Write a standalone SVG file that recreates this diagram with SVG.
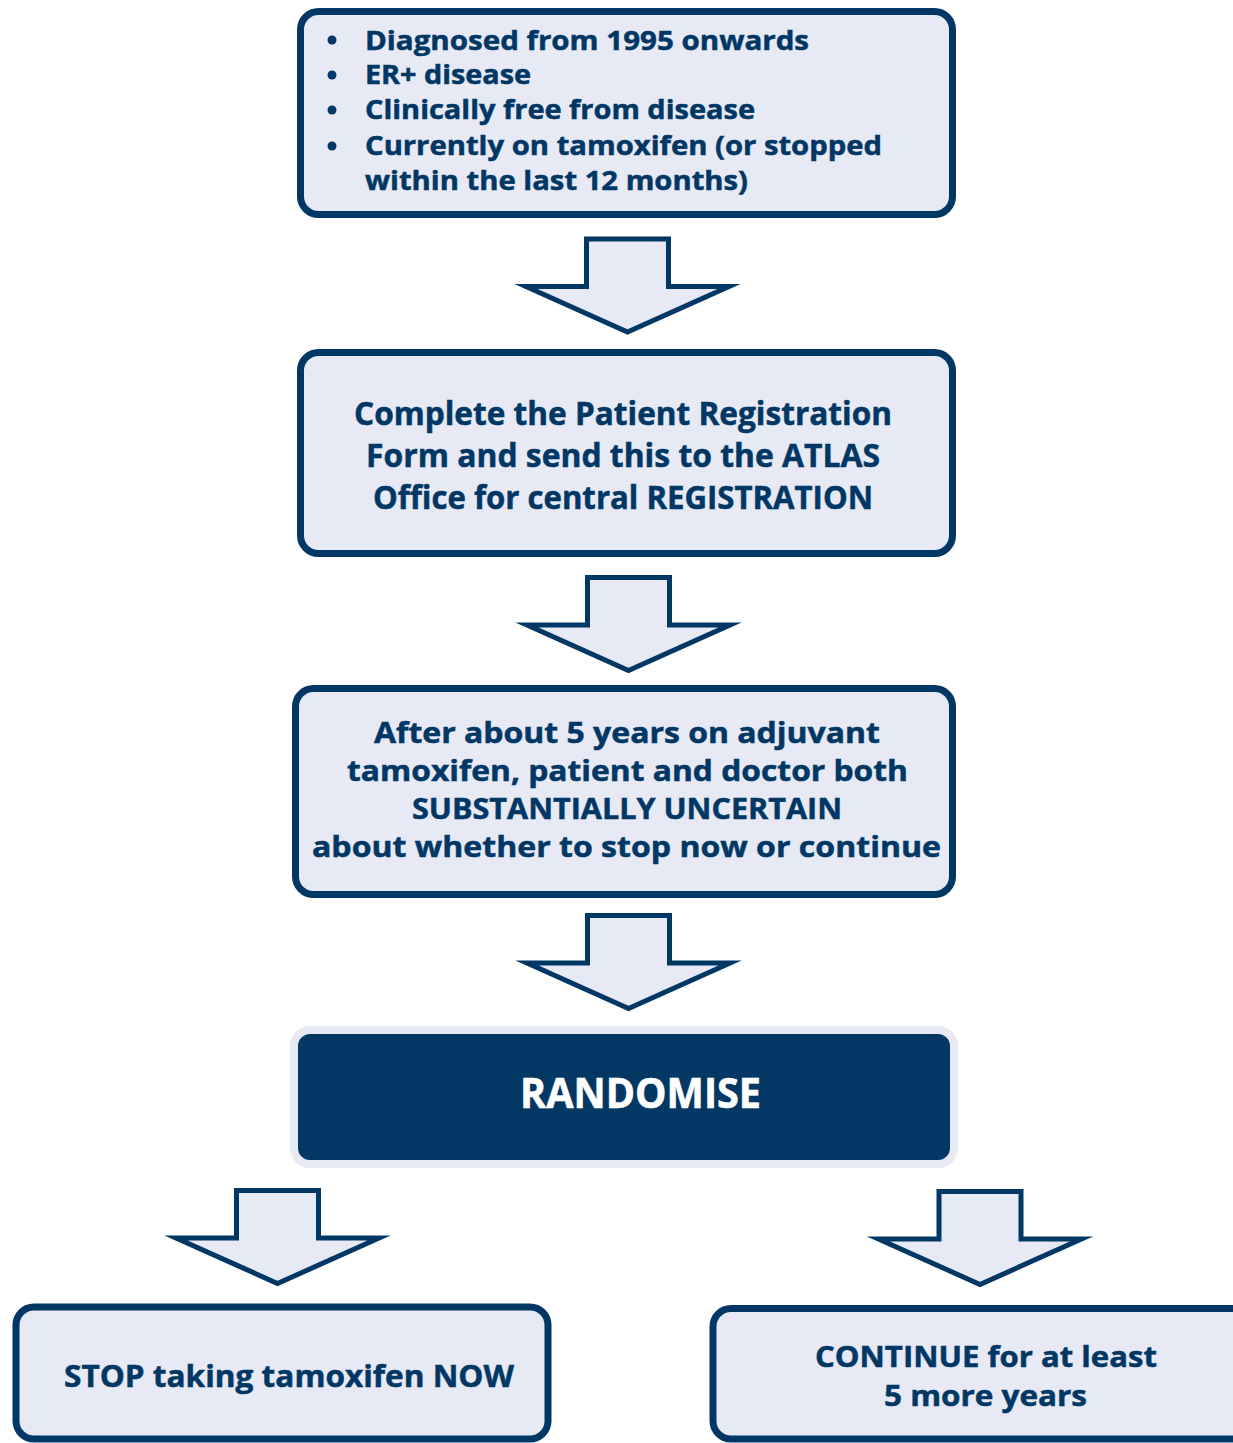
<svg xmlns="http://www.w3.org/2000/svg" width="1233" height="1443" viewBox="0 0 1233 1443">
<style>
.box{fill:#e7e9f5;stroke:#003764;stroke-width:7}
.arrow{fill:#e7e9f5;stroke:#003764;stroke-width:5;stroke-linejoin:miter;stroke-miterlimit:10}
.t{font-family:"Open Sans","Noto Sans","Liberation Sans",sans-serif;font-weight:700;fill:#003764;stroke:#003764;stroke-width:0.5}
.w{font-family:"Open Sans","Noto Sans","Liberation Sans",sans-serif;font-weight:700;fill:#ffffff;stroke:#ffffff;stroke-width:0.6}
</style>
<defs>
<polygon id="arr" points="-41,0 41,0 41,47.5 101.5,47.5 0,93 -101.5,47.5 -41,47.5"/>
</defs>
<rect width="1233" height="1443" fill="#ffffff"/>
<g id="connectors">
<use href="#arr" class="arrow" transform="translate(627.5,239)"/>
<use href="#arr" class="arrow" transform="translate(628.5,577.5)"/>
<use href="#arr" class="arrow" transform="translate(628.5,915.5)"/>
<use href="#arr" class="arrow" transform="translate(277.5,1190.5)"/>
<use href="#arr" class="arrow" transform="translate(980,1191.5)"/>
</g>
<g id="criteria">
<rect class="box" x="300.5" y="11.5" width="652" height="203" rx="18"/>
<circle cx="332" cy="40" r="4.5" fill="#003764"/>
<circle cx="332" cy="75" r="4.5" fill="#003764"/>
<circle cx="332" cy="110" r="4.5" fill="#003764"/>
<circle cx="332" cy="146" r="4.5" fill="#003764"/>
<text class="t" font-size="27" x="365" y="50" textLength="444" lengthAdjust="spacingAndGlyphs">Diagnosed from 1995 onwards</text>
<text class="t" font-size="27" x="365" y="84" textLength="166" lengthAdjust="spacingAndGlyphs">ER+ disease</text>
<text class="t" font-size="27" x="365" y="119" textLength="390" lengthAdjust="spacingAndGlyphs">Clinically free from disease</text>
<text class="t" font-size="27" x="365" y="155" textLength="517" lengthAdjust="spacingAndGlyphs">Currently on tamoxifen (or stopped</text>
<text class="t" font-size="27" x="365" y="190" textLength="383" lengthAdjust="spacingAndGlyphs">within the last 12 months)</text>
</g>
<g id="registration">
<rect class="box" x="300.5" y="352.5" width="652" height="201" rx="18"/>
<text class="t" font-size="32" x="354" y="425" textLength="538" lengthAdjust="spacingAndGlyphs">Complete the Patient Registration</text>
<text class="t" font-size="32" x="366" y="467" textLength="514" lengthAdjust="spacingAndGlyphs">Form and send this to the ATLAS</text>
<text class="t" font-size="32" x="373" y="509" textLength="500" lengthAdjust="spacingAndGlyphs">Office for central REGISTRATION</text>
</g>
<g id="uncertain">
<rect class="box" x="295.5" y="688.5" width="657" height="206" rx="18"/>
<text class="t" font-size="29" x="374" y="743" textLength="506" lengthAdjust="spacingAndGlyphs">After about 5 years on adjuvant</text>
<text class="t" font-size="29" x="347" y="781" textLength="561" lengthAdjust="spacingAndGlyphs">tamoxifen, patient and doctor both</text>
<text class="t" font-size="29" x="412" y="819" textLength="430" lengthAdjust="spacingAndGlyphs">SUBSTANTIALLY UNCERTAIN</text>
<text class="t" font-size="29" x="312" y="857" textLength="629" lengthAdjust="spacingAndGlyphs">about whether to stop now or continue</text>
</g>
<g id="randomise">
<rect x="294" y="1030" width="660" height="134" rx="16" fill="#033764" stroke="#e7e9f5" stroke-width="8"/>
<text class="w" font-size="41" x="520" y="1108" textLength="241" lengthAdjust="spacingAndGlyphs">RANDOMISE</text>
</g>
<g id="stop">
<rect class="box" x="16" y="1307" width="532" height="132" rx="18"/>
<text class="t" font-size="31" x="64" y="1387" textLength="450" lengthAdjust="spacingAndGlyphs">STOP taking tamoxifen NOW</text>
</g>
<g id="continue">
<rect class="box" x="713" y="1308.5" width="540" height="130.5" rx="18"/>
<text class="t" font-size="29" x="815" y="1367" textLength="342" lengthAdjust="spacingAndGlyphs">CONTINUE for at least</text>
<text class="t" font-size="29" x="884" y="1406" textLength="203" lengthAdjust="spacingAndGlyphs">5 more years</text>
</g>
</svg>
